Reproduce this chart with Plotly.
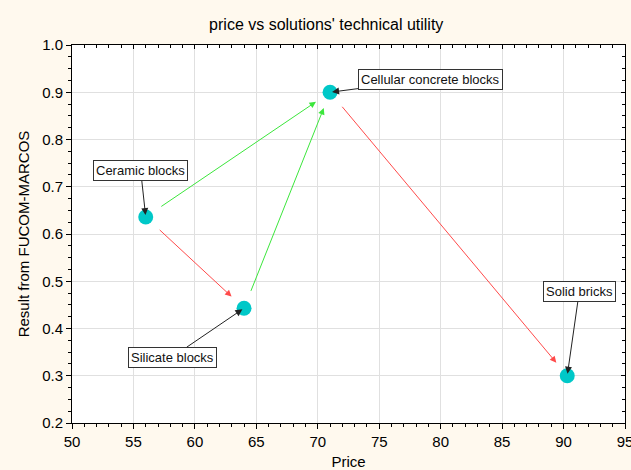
import plotly.graph_objects as go

names = ["Ceramic blocks", "Silicate blocks", "Cellular concrete blocks", "Solid bricks"]
price = [56.0, 64.0, 71.0, 90.3]
score = [0.636, 0.443, 0.900, 0.300]

# transitions (from index, to index, kind)
edges_from = [0, 1, 0, 2]
edges_to = [2, 2, 1, 3]
edges_kind = ["up", "up", "down", "down"]

x_ticks = [50, 55, 60, 65, 70, 75, 80, 85, 90, 95]
y_ticks = [0.2, 0.3, 0.4, 0.5, 0.6, 0.7, 0.8, 0.9, 1.0]

kind_color = {"up": "#3CE63C", "down": "#FF4A4A"}
label_offsets = {
    "Ceramic blocks": (-5, -46),
    "Silicate blocks": (-72, 49),
    "Cellular concrete blocks": (100, -13),
    "Solid bricks": (12, -84),
}

FONT = "Liberation Sans, Arial"

fig = go.Figure()
fig.add_trace(go.Scatter(
    x=price, y=score, mode="markers",
    marker=dict(size=15, color="#00C8C8", line=dict(width=0)),
    hoverinfo="skip", showlegend=False,
))
# invisible trace so the mirrored top/right axes are drawn
fig.add_trace(go.Scatter(
    x=price, y=score, xaxis="x2", yaxis="y2", mode="markers",
    marker=dict(opacity=0), hoverinfo="skip", showlegend=False,
))

annotations = []
for f, t, k in zip(edges_from, edges_to, edges_kind):
    annotations.append(dict(
        x=price[t], y=score[t], ax=price[f], ay=score[f],
        xref="x", yref="y", axref="x", ayref="y",
        text="", showarrow=True, arrowhead=2, arrowsize=1.3, arrowwidth=1,
        arrowcolor=kind_color[k], standoff=17, startstandoff=17,
    ))

for n, px, sy in zip(names, price, score):
    ox, oy = label_offsets[n]
    annotations.append(dict(
        x=px, y=sy, xref="x", yref="y", ax=ox, ay=oy,
        text=n, showarrow=True, arrowhead=2, arrowsize=1.4, arrowwidth=1,
        arrowcolor="#222222", standoff=2,
        font=dict(family=FONT, size=13, color="#111111"),
        bgcolor="white", bordercolor="#333333", borderwidth=1, borderpad=2,
    ))

axis_common = dict(
    showline=True, linecolor="black", linewidth=1, mirror=False,
    ticks="outside", ticklen=5, tickcolor="black", automargin=False,
    ticklabeloverflow="allow",
    showgrid=True, gridcolor="#E0E0E0", gridwidth=1, zeroline=False,
    tickfont=dict(family=FONT, size=15, color="black"),
)
mirror_common = dict(
    showline=True, linecolor="black", linewidth=1, ticks="inside", ticklen=4,
    tickcolor="black", showticklabels=False, showgrid=False, zeroline=False,
    automargin=False,
)

fig.update_layout(
    width=631, height=470,
    paper_bgcolor="#FFF9EE", plot_bgcolor="white",
    margin=dict(l=72, r=6, t=45, b=47),
    title=dict(text="price vs solutions' technical utility", x=0.517, xanchor="center",
               y=0.949, yanchor="middle",
               font=dict(family=FONT, size=16, color="black")),
    xaxis=dict(axis_common, range=[50, 95], tickvals=x_ticks,
               ticktext=[str(v) for v in x_ticks],
               minor=dict(dtick=1, ticks="outside", ticklen=3, tickcolor="black", showgrid=False),
               title=dict(text="Price", standoff=8,
                          font=dict(family=FONT, size=15, color="black"))),
    yaxis=dict(axis_common, range=[0.2, 1.0], tickvals=y_ticks,
               ticktext=[f"{v:.1f}" for v in y_ticks],
               minor=dict(dtick=0.025, tick0=0.2, ticks="outside", ticklen=3, tickcolor="black", showgrid=False),
               title=dict(text="Result from FUCOM-MARCOS", standoff=8,
                          font=dict(family=FONT, size=15, color="black"))),
    xaxis2=dict(mirror_common, overlaying="x", side="top", range=[50, 95], tickvals=x_ticks,
                minor=dict(dtick=1, ticks="inside", ticklen=3, tickcolor="black", showgrid=False)),
    yaxis2=dict(mirror_common, overlaying="y", side="right", range=[0.2, 1.0], tickvals=y_ticks,
                minor=dict(dtick=0.025, tick0=0.2, ticks="inside", ticklen=3, tickcolor="black", showgrid=False)),
    annotations=annotations,
)

fig.write_html("out.html", config={"displayModeBar": False},
               post_script="document.body.style.margin='0';")
